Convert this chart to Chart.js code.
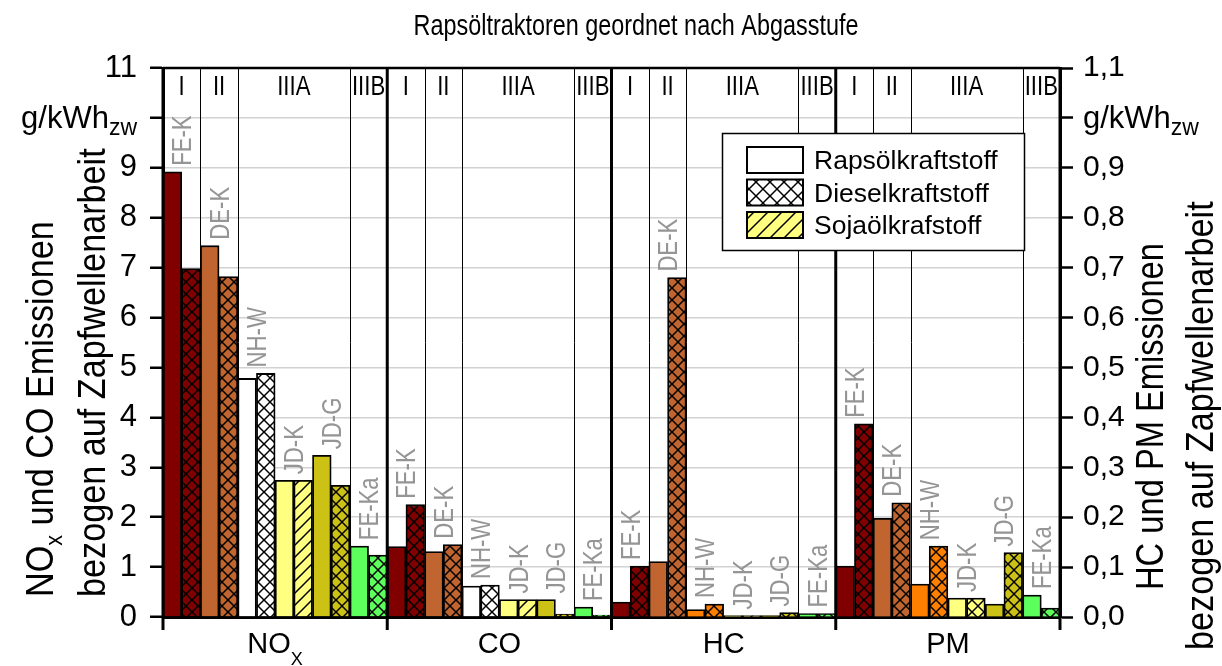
<!DOCTYPE html>
<html lang="de">
<head>
<meta charset="utf-8">
<title>Rapsöltraktoren geordnet nach Abgasstufe</title>
<script src="https://cdn.jsdelivr.net/npm/chart.js@4.4.1/dist/chart.umd.min.js"></script>
<style>
  html, body { margin: 0; padding: 0; background: #fff; overflow: hidden; }
  canvas { display: block; }
</style>
</head>
<body>
<canvas id="chart" width="1222" height="666"></canvas>
<script>
// Abgaskomponenten, Traktoren und Abgasstufen
const components = ['NO_{X}', 'CO', 'HC', 'PM'];
const tractors = ['FE-K', 'DE-K', 'NH-W', 'JD-K', 'JD-G', 'FE-Ka'];
const stages = ['I', 'II', 'IIIA', 'IIIB'];
const tractorStage = [0, 1, 2, 2, 2, 3];
const fuels = ['Rapsölkraftstoff', 'Dieselkraftstoff', 'Sojaölkrafstoff'];

// NOx und CO in g/kWh_zw (linke Achse)
const noxRapeseed  = [8.92, 7.44, 4.78, 2.74, 3.24, 1.42];
const noxReference = [6.98, 6.82, 4.88, 2.74, 2.64, 1.24];
const coRapeseed   = [1.41, 1.31, 0.62, 0.35, 0.35, 0.20];
const coReference  = [2.25, 1.45, 0.64, 0.35, 0.06, 0.04];
// HC und PM in g/kWh_zw (rechte Achse)
const hcRapeseed   = [0.030, 0.111, 0.015, 0.003, 0.003, 0.007];
const hcReference  = [0.102, 0.680, 0.026, 0.003, 0.009, 0.007];
const pmRapeseed   = [0.102, 0.198, 0.066, 0.038, 0.026, 0.044];
const pmReference  = [0.387, 0.229, 0.142, 0.038, 0.129, 0.018];
// Kraftstoff des Vergleichsbalkens (1 = Diesel, 2 = Sojaöl)
const noxReferenceFuel = [1, 1, 1, 2, 1, 1];
const coReferenceFuel  = [1, 1, 1, 2, 1, 1];
const hcReferenceFuel  = [1, 1, 1, 2, 1, 1];
const pmReferenceFuel  = [1, 1, 1, 1, 1, 1];

// Achsen und Texte
const leftMax = 11, leftStep = 1;
const rightMax = 1.1, rightStep = 0.1;
const unitLabel = 'g/kWh_{zw}';
const chartTitle = 'Rapsöltraktoren geordnet nach Abgasstufe';
const leftTitle = ['NO_{x} und CO Emissionen', 'bezogen auf Zapfwellenarbeit'];
const rightTitle = ['HC und PM Emissionen', 'bezogen auf Zapfwellenarbeit'];

// Farben je Traktor (NH-W bei HC/PM orange)
const colorsNoxCo = ['#800000', '#C0652F', '#FFFFFF', '#FFFF80', '#CCC216', '#5CFF5C'];
const colorsHcPm  = ['#800000', '#C0652F', '#FF8000', '#FFFF80', '#CCC216', '#5CFF5C'];
const legendColors = ['#FFFFFF', '#FFFFFF', '#FFFF80'];

const FONT = '"Liberation Sans", Arial, sans-serif';
const NARROW = 0.82;

const series = [
  { raps: noxRapeseed, ref: noxReference, fuel: noxReferenceFuel, axis: 'y',  colors: colorsNoxCo },
  { raps: coRapeseed,  ref: coReference,  fuel: coReferenceFuel,  axis: 'y',  colors: colorsNoxCo },
  { raps: hcRapeseed,  ref: hcReference,  fuel: hcReferenceFuel,  axis: 'y2', colors: colorsHcPm },
  { raps: pmRapeseed,  ref: pmReference,  fuel: pmReferenceFuel,  axis: 'y2', colors: colorsHcPm }
];

function makeFill(color, fuel, size) {
  if (!fuel) return color;
  const c = document.createElement('canvas');
  c.width = c.height = size;
  const g = c.getContext('2d');
  g.fillStyle = color;
  g.fillRect(0, 0, size, size);
  g.strokeStyle = '#000';
  g.lineWidth = 1.5;
  for (let k = -1; k <= 1; k++) {
    g.beginPath();
    g.moveTo(k * size - 1, size + 1);
    g.lineTo(k * size + size + 1, -1);
    g.stroke();
    if (fuel === 1) {
      g.beginPath();
      g.moveTo(k * size - 1, -1);
      g.lineTo(k * size + size + 1, size + 1);
      g.stroke();
    }
  }
  return g.createPattern(c, 'repeat');
}

const labels = [], leftData = [], rightData = [], fills = [];
series.forEach((s, gi) => {
  tractors.forEach((t, ti) => {
    labels.push(components[gi].replace(/_\{|\}/g, '') + ' ' + t + ' ' + fuels[0]);
    labels.push(components[gi].replace(/_\{|\}/g, '') + ' ' + t + ' ' + fuels[s.fuel[ti]]);
    const pair = [s.raps[ti], s.ref[ti]];
    if (s.axis === 'y') { leftData.push(...pair); rightData.push(null, null); }
    else { rightData.push(...pair); leftData.push(null, null); }
    fills.push(makeFill(s.colors[ti], 0, 12));
    fills.push(makeFill(s.colors[ti], s.fuel[ti], 12));
  });
});

function parseRich(str, size, subSize, subDy) {
  const parts = [];
  const re = /_\{([^}]*)\}/g;
  let last = 0, m;
  while ((m = re.exec(str))) {
    if (m.index > last) parts.push({ t: str.slice(last, m.index), size, dy: 0 });
    parts.push({ t: m[1], size: subSize, dy: subDy });
    last = re.lastIndex;
  }
  if (last < str.length) parts.push({ t: str.slice(last), size, dy: 0 });
  return parts;
}

function drawRich(ctx, parts, x, y, o) {
  ctx.save();
  ctx.translate(x, y);
  if (o.rot) ctx.rotate(o.rot);
  ctx.scale(o.sx || 1, 1);
  ctx.fillStyle = o.color || '#000';
  ctx.textBaseline = 'alphabetic';
  ctx.textAlign = 'left';
  let total = 0;
  parts.forEach(p => { ctx.font = p.size + 'px ' + FONT; p.w = ctx.measureText(p.t).width; total += p.w; });
  let cx = o.align === 'center' ? -total / 2 : o.align === 'right' ? -total : 0;
  parts.forEach(p => { ctx.font = p.size + 'px ' + FONT; ctx.fillText(p.t, cx, (o.dy || 0) + p.dy); cx += p.w; });
  ctx.restore();
}

function vline(ctx, x, y0, y1) { ctx.beginPath(); ctx.moveTo(x, y0); ctx.lineTo(x, y1); ctx.stroke(); }

const decor = {
  id: 'decor',
  beforeDatasetsDraw(chart) {
    const { ctx, chartArea: a, scales: { x } } = chart;
    const step = x.getPixelForValue(1) - x.getPixelForValue(0);
    const edge = i => x.getPixelForValue(i) - step / 2;
    ctx.save();
    ctx.strokeStyle = '#000';
    ctx.lineWidth = 1;
    for (let g = 0; g < series.length; g++) {
      for (let t = 1; t < tractors.length; t++) {
        if (tractorStage[t] !== tractorStage[t - 1]) {
          vline(ctx, Math.round(edge(g * 12 + t * 2)) + 0.5, a.top, a.bottom);
        }
      }
    }
    ctx.restore();
  },
  afterDatasetsDraw(chart) {
    const { ctx, chartArea: a, scales: { x, y, y2 } } = chart;
    const step = x.getPixelForValue(1) - x.getPixelForValue(0);
    const edge = i => x.getPixelForValue(i) - step / 2;
    ctx.save();

    // Rahmen oben und Trennlinien der Komponenten
    ctx.strokeStyle = '#000';
    ctx.lineWidth = 2.5;
    ctx.beginPath(); ctx.moveTo(a.left, a.top); ctx.lineTo(a.right, a.top); ctx.stroke();
    ctx.lineWidth = 3;
    for (let g = 0; g <= series.length; g++) {
      vline(ctx, g === series.length ? a.right : edge(g * 12), a.top - 1, a.bottom + 13);
    }

    // Abgasstufen im Kopfbereich
    for (let g = 0; g < series.length; g++) {
      stages.forEach((st, si) => {
        const members = tractorStage.map((s, i) => s === si ? i : -1).filter(i => i >= 0);
        const x0 = edge(g * 12 + members[0] * 2);
        const x1 = edge(g * 12 + members[members.length - 1] * 2 + 2);
        drawRich(ctx, [{ t: st, size: 27, dy: 0 }], (x0 + x1) / 2, a.top + 27, { align: 'center', sx: NARROW });
      });
    }

    // Traktorbezeichnungen über den Balkenpaaren
    series.forEach((s, gi) => {
      const sc = s.axis === 'y' ? y : y2;
      tractors.forEach((t, ti) => {
        const i = gi * 12 + ti * 2;
        const px = edge(i + 1);
        const py = sc.getPixelForValue(Math.max(s.raps[ti], s.ref[ti])) - 6;
        drawRich(ctx, [{ t, size: 27, dy: 0 }], px, py, { rot: -Math.PI / 2, sx: NARROW, dy: 9.5, color: '#959595' });
      });
    });

    // Legende
    const L = { x: 722, y: 133, w: 302, h: 117 };
    ctx.fillStyle = '#fff';
    ctx.fillRect(L.x, L.y, L.w, L.h);
    ctx.lineWidth = 1.5;
    ctx.strokeStyle = '#000';
    ctx.strokeRect(L.x + 0.5, L.y + 0.5, L.w, L.h);
    fuels.forEach((f, i) => {
      const ry = 147 + i * 32.5;
      ctx.fillStyle = makeFill(legendColors[i], i, 14);
      ctx.fillRect(747, ry, 56, 26);
      ctx.lineWidth = 2;
      ctx.strokeStyle = '#000';
      ctx.strokeRect(747, ry, 56, 26);
      drawRich(ctx, [{ t: f, size: 26.5, dy: 0 }], 814, ry + 22, {});
    });

    // Einheiten an den Achsen
    const uy = y.getPixelForValue(10) + 10;
    drawRich(ctx, parseRich(unitLabel, 31, 23, 7), a.left - 26, uy, { align: 'right' });
    drawRich(ctx, parseRich(unitLabel, 31, 23, 7), a.right + 23, uy, { align: 'left' });

    // Komponenten unter der x-Achse
    components.forEach((c, gi) => {
      const cx = (edge(gi * 12) + edge(gi * 12 + 12)) / 2;
      drawRich(ctx, parseRich(c, 29, 18, 12), cx, 653, { align: 'center' });
    });

    // Achsentitel
    const TS = 38, TX = 0.9;
    drawRich(ctx, parseRich(leftTitle[0], TS, 24, 9), 40, 597, { rot: -Math.PI / 2, sx: TX, dy: 13 });
    drawRich(ctx, parseRich(leftTitle[1], TS, 24, 9), 92, 597, { rot: -Math.PI / 2, sx: TX, dy: 13 });
    drawRich(ctx, parseRich(rightTitle[0], TS, 24, 9), 1147, 590, { rot: -Math.PI / 2, sx: 0.86, dy: 16 });
    drawRich(ctx, parseRich(rightTitle[1], TS, 24, 9), 1200, 650, { rot: -Math.PI / 2, sx: TX, dy: 13 });

    // Diagrammtitel
    drawRich(ctx, [{ t: chartTitle, size: 30, dy: 0 }], 636, 35, { align: 'center', sx: 0.78 });
    ctx.restore();
  }
};

new Chart(document.getElementById('chart'), {
  type: 'bar',
  data: {
    labels,
    datasets: [
      { label: 'NOx, CO', data: leftData, yAxisID: 'y', backgroundColor: fills, borderColor: '#000', borderWidth: 1.8 },
      { label: 'HC, PM', data: rightData, yAxisID: 'y2', backgroundColor: fills, borderColor: '#000', borderWidth: 1.8 }
    ]
  },
  options: {
    responsive: false,
    animation: false,
    devicePixelRatio: 1,
    layout: { padding: { top: 68, left: 0, right: 0, bottom: 0 } },
    datasets: { bar: { barPercentage: 1, categoryPercentage: 1, grouped: false } },
    plugins: { legend: { display: false }, title: { display: false }, tooltip: { enabled: false } },
    scales: {
      x: {
        type: 'category', offset: true,
        grid: { display: false, drawTicks: false },
        ticks: { display: false },
        border: { color: '#000', width: 3 },
        afterFit(s) { s.height = 49; }
      },
      y: {
        position: 'left', min: 0, max: leftMax,
        ticks: {
          stepSize: leftStep, color: '#000', padding: 13,
          font: { family: FONT, size: 31 },
          callback: v => v === 10 ? '' : String(v)
        },
        grid: { color: '#d2d2d2', lineWidth: 1.5, tickColor: '#000', tickWidth: 2.5, tickLength: 13 },
        border: { color: '#000', width: 3 },
        afterFit(s) { s.width = 163; }
      },
      y2: {
        position: 'right', min: 0, max: rightMax,
        ticks: {
          stepSize: rightStep, color: '#000', padding: 10,
          font: { family: FONT, size: 30 },
          callback: v => Math.abs(v - 1) < 1e-6 ? '' : v.toFixed(1).replace('.', ',')
        },
        grid: { drawOnChartArea: false, tickColor: '#000', tickWidth: 2.5, tickLength: 13 },
        border: { color: '#000', width: 3 },
        afterFit(s) { s.width = 162; }
      }
    }
  },
  plugins: [decor]
});
</script>
</body>
</html>
